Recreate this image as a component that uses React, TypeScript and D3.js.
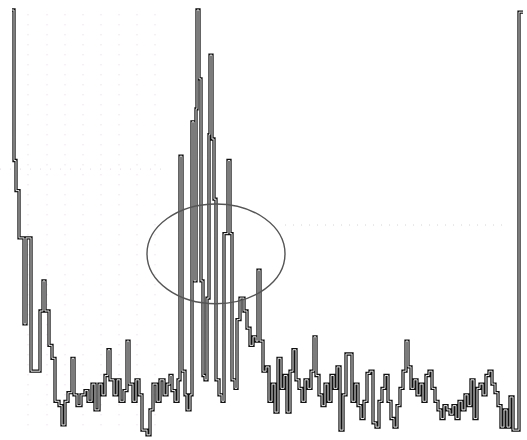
import React from "react";
import * as d3 from "d3";

const width = 527;
const height = 440;

// sample position (arbitrary units) and trace level (0-100)
const times = [
  12, 14, 16, 19, 24, 26, 31, 36, 40, 43, 45, 49, 52, 55, 59, 62, 65, 68, 72, 74,
  77, 81, 85, 88, 92, 95, 99, 102, 105, 108, 110, 114, 117, 120, 124, 127, 129, 133, 136, 139,
  142, 147, 150, 153, 157, 160, 164, 167, 170, 172, 175, 178, 180, 182, 185, 187, 190, 192, 194, 196,
  197, 199, 201, 203, 205, 207, 209, 210, 212, 214, 216, 219, 222, 224, 228, 230, 232, 235, 237, 240,
  244, 247, 250, 253, 256, 258, 260, 263, 266, 269, 272, 275, 278, 281, 284, 287, 290, 293, 296, 299,
  302, 305, 308, 311, 314, 316, 319, 322, 325, 328, 331, 334, 337, 340, 343, 346, 349, 352, 355, 358,
  361, 364, 367, 370, 373, 376, 379, 382, 385, 388, 391, 394, 397, 400, 403, 406, 408, 411, 414, 417,
  420, 423, 426, 429, 432, 435, 438, 441, 444, 447, 450, 453, 456, 459, 462, 465, 468, 471, 474, 477,
  480, 483, 486, 489, 492, 495, 498, 501, 504, 507, 510, 513, 516, 519, 523,
];

const levels = [
  100, 65, 58, 47, 27, 47, 16, 16, 30, 37, 30, 22, 19, 9, 8, 3.5, 9, 11, 19, 10.5,
  8, 10.5, 11.5, 9, 13, 7, 13, 10.5, 15, 21, 14, 10.5, 14, 9, 11.5, 23, 13, 9, 14, 10.5,
  2.3, 1.2, 7, 13, 9, 14, 10.5, 13, 15, 11.5, 9, 14, 66, 16, 10.5, 7, 10.5, 74, 37, 77,
  100, 84, 37, 15, 14, 33, 71, 89.5, 70, 56, 14, 10.5, 9, 48, 65, 48, 14, 12, 28, 33,
  30, 26, 22, 24, 23, 39.5, 23, 16, 17, 9, 13, 6.5, 19, 12, 15, 6.5, 16, 21, 14, 12,
  9, 14, 12, 16, 24, 15, 10.5, 8, 13, 9, 15, 12, 17, 2.3, 10.5, 20, 20, 9, 13, 8,
  5, 9, 15.5, 16, 4, 3, 9, 12, 15, 9, 5, 3, 8, 12, 16, 23, 17, 12, 14, 10.5,
  13, 9, 15, 16, 12, 9, 7, 5, 8, 7, 6, 8, 5, 9, 7, 10.5, 8, 14, 5, 12,
  13, 10.5, 15, 16, 13, 11, 8, 3, 7, 3, 10, 2.3, 2.3, 99.5, 99.5,
];

// faint dotted guide lines
const gridTimes = [28, 47, 65, 83, 101, 119, 137, 155];
const gridLevel = 50;

// hand-drawn ellipse around the burst
const ring = { t: 216, level: 43.3, rt: 69, rLevel: 11.6 };

export default function App() {
  const x = d3.scaleLinear().domain([0, 527]).range([0, width]);
  const y = d3.scaleLinear().domain([0, 100]).range([440, 10]);

  const data = times.map((t, i) => ({ t, v: levels[i] }));

  const line = d3
    .line<{ t: number; v: number }>()
    .x((d) => x(d.t))
    .y((d) => y(d.v))
    .curve(d3.curveStepAfter);

  const path = line(data) || "";

  const cx = x(ring.t);
  const cy = y(ring.level);
  const rx = x(ring.t + ring.rt) - cx;
  const ry = y(ring.level - ring.rLevel) - cy;

  return (
    <svg
      width={width}
      height={height}
      style={{ position: "absolute", left: 0, top: 0, display: "block", background: "#fff" }}
    >
      {gridTimes.map((t) => (
        <line
          key={t}
          x1={x(t)}
          x2={x(t)}
          y1={y(99)}
          y2={y(2)}
          stroke="#e6d4e6"
          strokeWidth={1}
          strokeDasharray="1 9"
        />
      ))}
      <line
        x1={x(285)}
        x2={x(505)}
        y1={y(gridLevel)}
        y2={y(gridLevel)}
        stroke="#d8d0d8"
        strokeWidth={1}
        strokeDasharray="1 7"
      />
      <line
        x1={x(0)}
        x2={x(170)}
        y1={y(63)}
        y2={y(63)}
        stroke="#e6d8e6"
        strokeWidth={1}
        strokeDasharray="1 9"
      />
      <path d={path} fill="none" stroke="#111" strokeWidth={3.3} strokeLinejoin="miter" />
      <path d={path} fill="none" stroke="#fff" strokeWidth={0.9} strokeLinejoin="miter" />
      <ellipse cx={cx} cy={cy} rx={rx} ry={ry} fill="none" stroke="#555" strokeWidth={1.4} />
    </svg>
  );
}
